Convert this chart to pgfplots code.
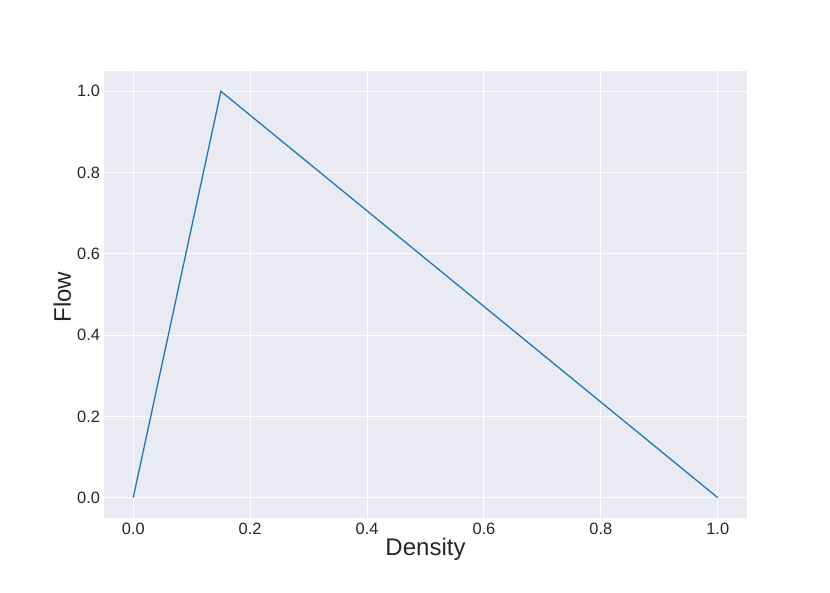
\documentclass[border=0pt]{standalone}
\usepackage{pgfplots}
\pgfplotsset{compat=1.18}
\usepackage{fontspec}
\setmainfont{Liberation Sans}
\definecolor{sbbg}{HTML}{EAEAF2}
\definecolor{sbblue}{HTML}{1F77B4}
\definecolor{txt}{HTML}{262626}
\begin{document}
\begin{tikzpicture}
\path[use as bounding box] (-52pt,-37.5pt) rectangle (363pt,259pt);
\begin{axis}[
    at={(0,0)}, anchor=south west,
    scale only axis,
    width=321.5pt, height=223.5pt,
    xmin=-0.05, xmax=1.05,
    ymin=-0.05, ymax=1.05,
    xtick={0,0.2,...,1}, ytick={0,0.2,...,1},
    ticklabel style={font=\fontsize{8.2}{9.5}\selectfont, text=txt},
    xticklabel style={yshift=1pt, /pgf/number format/.cd,fixed,fixed zerofill,precision=1},
    yticklabel style={xshift=1.5pt, /pgf/number format/.cd,fixed,fixed zerofill,precision=1},
    /pgf/number format/assume math mode=true,
    major tick length=0pt,
    axis background/.style={fill=sbbg},
    axis line style={draw=none},
    grid=major,
    grid style={white, line width=0.5pt},
    xlabel={Density}, ylabel={Flow},
    label style={font=\fontsize{12}{14}\selectfont, text=txt},
    xlabel style={at={(axis description cs:0.5,-0.069)}, anchor=center},
    ylabel style={at={(axis description cs:-0.065,0.494)}, anchor=center},
]
\addplot[sbblue, line width=0.65pt] coordinates {
    (0,0) (0.15,1) (1,0)
};
\end{axis}
\end{tikzpicture}
\end{document}
